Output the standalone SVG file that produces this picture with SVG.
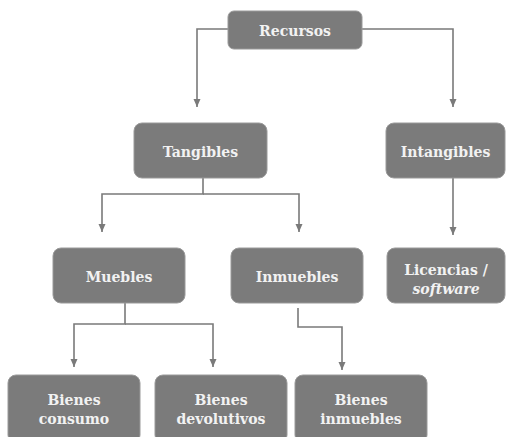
<svg xmlns="http://www.w3.org/2000/svg" width="515" height="437" viewBox="0 0 515 437">
<style>
.box{fill:#7b7b7b;stroke:#9a9a9a;stroke-width:1}
.t{font-family:'DejaVu Serif Condensed','DejaVu Serif',serif;font-stretch:condensed;font-weight:700;font-size:15.6px;fill:#f2f2f2;text-anchor:middle}
.c{fill:none;stroke:#7a7a7a;stroke-width:1.6}
</style>
<defs>
<marker id="ah" viewBox="0 0 8 10" refX="8" refY="5" markerWidth="8" markerHeight="10" markerUnits="userSpaceOnUse" orient="auto">
<path d="M0,1.5 L8,5 L0,8.5 Z" fill="#7a7a7a"/>
</marker>
</defs>
<rect width="515" height="437" fill="#ffffff"/>
<g id="connectors">
<path class="c" d="M228,29 H197 V107" marker-end="url(#ah)"/>
<path class="c" d="M362,29 H453 V107" marker-end="url(#ah)"/>
<path class="c" d="M203,178 V194 H102 V232" marker-end="url(#ah)"/>
<path class="c" d="M203,194 H299 V232" marker-end="url(#ah)"/>
<path class="c" d="M453,178 V235" marker-end="url(#ah)"/>
<path class="c" d="M125,303 V324 H74 V367" marker-end="url(#ah)"/>
<path class="c" d="M125,324 H213 V367" marker-end="url(#ah)"/>
<path class="c" d="M298,308 V327 H342 V370" marker-end="url(#ah)"/>
</g>
<g id="recursos"><rect class="box" x="228" y="11" width="134" height="38" rx="6"/><text class="t" x="295" y="36">Recursos</text></g>
<g id="tangibles"><rect class="box" x="134" y="123" width="133" height="55" rx="8"/><text class="t" x="200.5" y="157">Tangibles</text></g>
<g id="intangibles"><rect class="box" x="386" y="123" width="119" height="55" rx="8"/><text class="t" x="445.5" y="157">Intangibles</text></g>
<g id="muebles"><rect class="box" x="53" y="248" width="132" height="55" rx="8"/><text class="t" x="119" y="282">Muebles</text></g>
<g id="inmuebles"><rect class="box" x="231" y="248" width="132" height="55" rx="8"/><text class="t" x="297" y="282">Inmuebles</text></g>
<g id="licencias"><rect class="box" x="387" y="248" width="118" height="55" rx="8"/><text class="t" x="446" y="275">Licencias /</text><text class="t" x="446" y="294" font-style="italic">software</text></g>
<g id="bienes-consumo"><rect class="box" x="8" y="375" width="132" height="68" rx="8"/><text class="t" x="74" y="405">Bienes</text><text class="t" x="74" y="424">consumo</text></g>
<g id="bienes-devolutivos"><rect class="box" x="155" y="375" width="132" height="68" rx="8"/><text class="t" x="221" y="405">Bienes</text><text class="t" x="221" y="424">devolutivos</text></g>
<g id="bienes-inmuebles"><rect class="box" x="295" y="375" width="132" height="68" rx="8"/><text class="t" x="361" y="405">Bienes</text><text class="t" x="361" y="424">inmuebles</text></g>
</svg>
